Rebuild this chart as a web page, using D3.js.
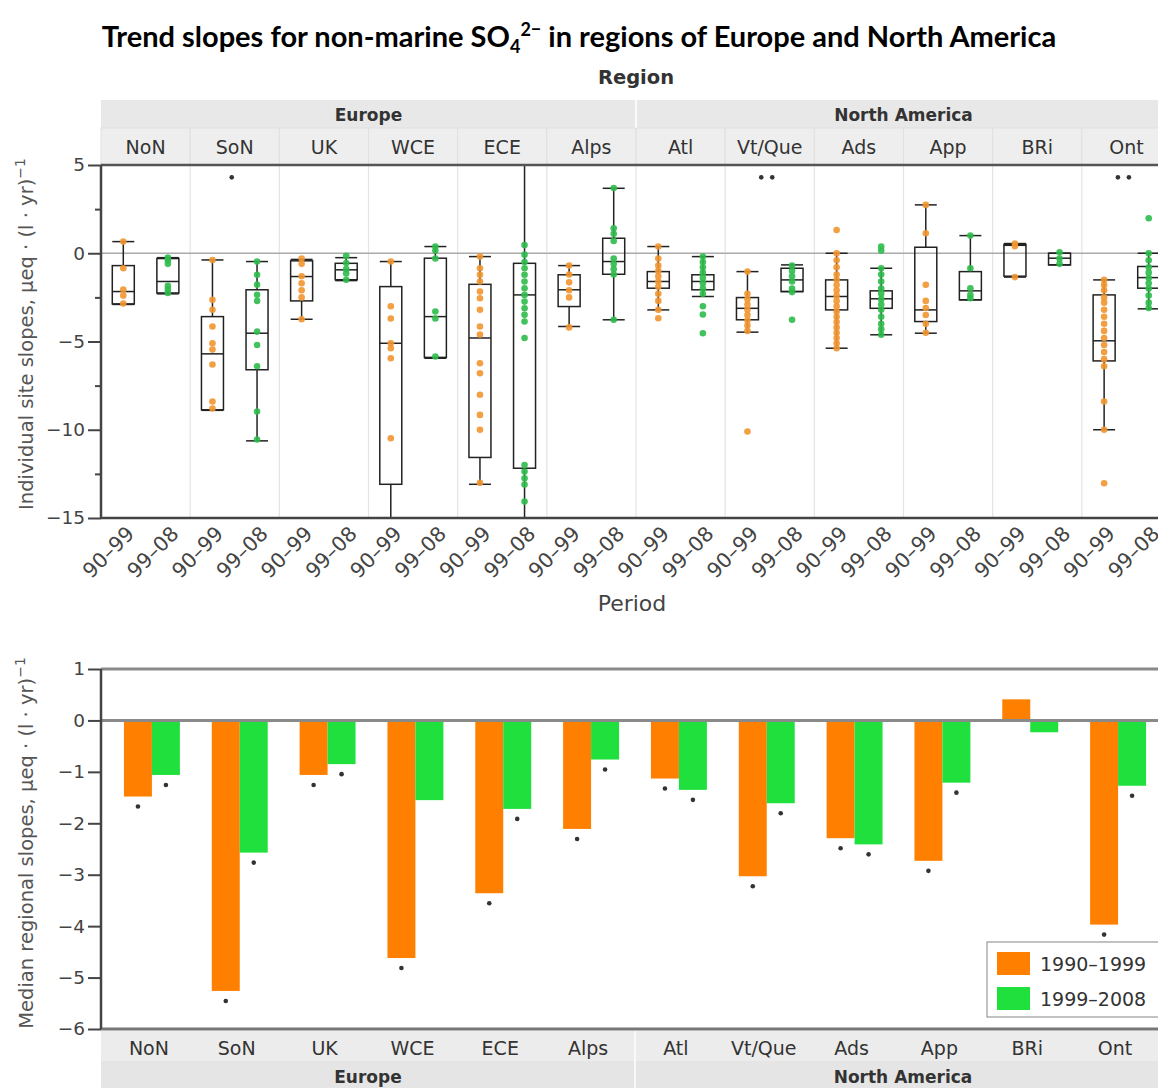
<!DOCTYPE html>
<html><head><meta charset="utf-8">
<script src="https://cdn.jsdelivr.net/npm/d3@7"></script>
<style>body{margin:0;background:#fff}svg{display:block}</style>
</head><body><svg id="c" width="1158" height="1088"></svg>
<script>
// ---------- DATA ----------
const regions = ["NoN","SoN","UK","WCE","ECE","Alps","Atl","Vt/Que","Ads","App","BRi","Ont"];
const regionGroup = ["Europe","Europe","Europe","Europe","Europe","Europe","North America","North America","North America","North America","North America","North America"];
const groups = ["Europe","North America"];
const periods = ["90–99","99–08"];
const seriesNames = ["1990–1999","1999–2008"];

// box stats per region: [whiskerLow, q1, median, q3, whiskerHigh]
const box9099 = [
  [-2.9,-2.87,-2.17,-0.7,0.66],
  [-8.9,-8.87,-5.7,-3.59,-0.38],
  [-3.74,-2.7,-1.32,-0.43,-0.35],
  [-17,-13.09,-5.1,-1.89,-0.47],
  [-13.09,-11.57,-4.8,-1.76,-0.19],
  [-4.15,-3.02,-2.07,-1.22,-0.7],
  [-3.21,-1.98,-1.6,-1.04,0.38],
  [-4.47,-3.77,-3.12,-2.51,-1.04],
  [-5.38,-3.21,-2.45,-1.51,0.0],
  [-4.53,-3.87,-3.21,0.34,2.74],
  [-1.35,-1.3,0.45,0.5,0.55],
  [-10.0,-6.1,-4.96,-2.36,-1.51]
];
const box9908 = [
  [-2.3,-2.25,-1.6,-0.3,-0.25],
  [-10.63,-6.6,-4.53,-2.07,-0.47],
  [-1.55,-1.5,-0.94,-0.57,-0.25],
  [-5.95,-5.9,-3.59,-0.28,0.38],
  [-17,-12.18,-2.36,-0.57,7],
  [-3.77,-1.19,-0.47,0.85,3.68],
  [-2.45,-2.07,-1.6,-1.22,-0.19],
  [-2.17,-2.17,-1.51,-0.85,-0.66],
  [-4.62,-3.12,-2.58,-2.13,-0.85],
  [-2.64,-2.64,-2.13,-1.04,1.0],
  [-0.66,-0.66,-0.28,0.0,0.0],
  [-3.15,-1.98,-1.38,-0.75,0.0]
];
// individual site slopes
const sites9099 = [
  [0.66,-0.85,-2.05,-2.4,-2.85],
  [-0.38,-2.64,-3.2,-4.15,-5.1,-5.46,-6.3,-8.4,-8.8],
  [-0.3,-0.6,-1.3,-1.7,-2.1,-2.5,-3.74],
  [-0.47,-3.0,-3.7,-5.1,-5.38,-5.95,-10.48],
  [-0.19,-0.85,-1.22,-1.6,-2.17,-2.55,-3.2,-4.15,-4.6,-6.23,-6.8,-8.02,-9.16,-10.0,-13.0],
  [-0.7,-1.2,-1.65,-2.1,-2.5,-4.2],
  [0.38,-0.3,-0.7,-1.0,-1.3,-1.6,-1.9,-2.3,-2.7,-3.2,-3.68],
  [-1.04,-2.3,-2.6,-2.9,-3.2,-3.5,-3.8,-4.1,-4.4,-10.1],
  [1.32,0.0,-0.4,-0.8,-1.2,-1.5,-1.8,-2.1,-2.4,-2.7,-3.0,-3.3,-3.6,-3.9,-4.2,-4.5,-4.8,-5.1,-5.38],
  [2.74,1.13,-1.79,-2.7,-3.1,-3.5,-4.0,-4.5],
  [0.55,0.4,-1.35],
  [-1.51,-1.8,-2.1,-2.5,-2.8,-3.2,-3.6,-4.0,-4.4,-4.8,-5.2,-5.6,-6.0,-6.4,-8.4,-10.0,-13.03]
];
const sites9908 = [
  [-0.25,-0.4,-0.6,-1.85,-2.05,-2.25],
  [-0.47,-1.22,-1.78,-2.35,-2.7,-4.44,-5.2,-6.4,-8.97,-10.55],
  [-0.15,-0.55,-0.9,-1.15,-1.5],
  [0.38,0.15,-0.3,-3.3,-3.7,-5.85],
  [0.47,-0.08,-0.5,-0.85,-1.22,-1.6,-1.98,-2.36,-2.74,-3.12,-3.49,-3.87,-4.8,-12.0,-12.37,-12.75,-13.1,-14.07],
  [3.7,1.42,1.1,0.7,-0.3,-0.6,-0.9,-1.2,-3.77],
  [-0.19,-0.5,-0.8,-1.1,-1.4,-1.7,-2.0,-2.3,-3.0,-3.47,-4.53],
  [-0.7,-1.0,-1.3,-1.6,-2.0,-2.2,-3.77],
  [0.38,0.15,-0.85,-1.2,-1.6,-2.0,-2.3,-2.6,-2.9,-3.2,-3.6,-4.0,-4.3,-4.62],
  [1.0,-0.85,-1.98,-2.36,-2.55],
  [0.05,-0.3,-0.6],
  [1.98,0.0,-0.4,-0.8,-1.1,-1.4,-1.7,-2.0,-2.4,-2.8,-3.1]
];
// number of off-scale markers shown at top of panel
const offScale = [0,1,0,0,0,0,0,2,0,0,0,2];

// median regional slopes
const median9099 = [-1.48,-5.26,-1.06,-4.62,-3.36,-2.11,-1.13,-3.03,-2.29,-2.73,0.41,-3.97];
const median9908 = [-1.06,-2.57,-0.85,-1.55,-1.72,-0.76,-1.35,-1.61,-2.41,-1.21,-0.23,-1.27];
const signif9099 = [1,1,1,1,1,1,1,1,1,1,0,1];
const signif9908 = [1,1,1,0,1,1,1,1,1,1,0,1];

const topTicks = [5,0,-5,-10,-15];
const topMinor = [2.5,-2.5,-7.5,-12.5];
const botTicks = [1,0,-1,-2,-3,-4,-5,-6];

// ---------- STYLE ----------
const ORANGE_PT = "#f2952f", GREEN_PT = "#2dbb4b";
const ORANGE = "#ff8000", GREEN = "#1fe03c";
const FONT = "DejaVu Sans";

const svg = d3.select("#c");

// Title
const title = svg.append("text").attr("x",579).attr("y",47).attr("text-anchor","middle")
  .attr("font-family","Lato").attr("font-weight","bold").attr("font-size",29).attr("fill","#000");
title.append("tspan").text("Trend slopes for non-marine SO");
title.append("tspan").attr("font-size",18).attr("dy",6).text("4");
title.append("tspan").attr("font-size",18).attr("dy",-17).text("2−");
title.append("tspan").attr("dy",11).text(" in regions of Europe and North America");

// ---------- TOP PANEL ----------
const L = 101, R = 1171;
const yT = d3.scaleLinear().domain([-15,5]).range([518,165]);
const xT = d3.scaleBand().domain(regions).range([L,R]);
const xP = d3.scalePoint().domain(periods).range([0,xT.bandwidth()]).padding(0.5);

svg.append("text").attr("x",636).attr("y",84).attr("text-anchor","middle")
  .attr("font-family",FONT).attr("font-weight","bold").attr("font-size",19.5).attr("fill","#333").text("Region");

// header
svg.append("rect").attr("x",L).attr("y",100).attr("width",R-L).attr("height",28).attr("fill","#e8e8e8");
svg.selectAll(".hcell").data(regions).join("rect")
  .attr("x",d=>xT(d)).attr("y",128).attr("width",xT.bandwidth()).attr("height",37)
  .attr("fill","#eeeeee").attr("stroke","#e0e0e0").attr("stroke-width",1);
const gStart = g => xT(regions[regionGroup.indexOf(g)]);
const gEnd = g => xT(regions[regionGroup.lastIndexOf(g)]) + xT.bandwidth();
svg.append("line").attr("x1",gEnd("Europe")).attr("x2",gEnd("Europe")).attr("y1",100).attr("y2",128)
  .attr("stroke","#fafafa").attr("stroke-width",2);
svg.selectAll(".gl").data(groups).join("text")
  .attr("x",g=>(gStart(g)+gEnd(g))/2).attr("y",121).attr("text-anchor","middle")
  .attr("font-family",FONT).attr("font-weight","bold").attr("font-size",17).attr("fill","#333").text(g=>g);
svg.selectAll(".rl").data(regions).join("text")
  .attr("x",d=>xT(d)+xT.bandwidth()/2).attr("y",154).attr("text-anchor","middle")
  .attr("font-family",FONT).attr("font-size",19).attr("fill","#333").text(d=>d);

// separators
svg.selectAll(".sep").data(regions.slice(1)).join("line")
  .attr("x1",d=>xT(d)).attr("x2",d=>xT(d)).attr("y1",165).attr("y2",518)
  .attr("stroke","#e4e4e4").attr("stroke-width",1.2);
svg.append("line").attr("x1",L).attr("x2",R).attr("y1",yT(0)).attr("y2",yT(0))
  .attr("stroke","#aaa").attr("stroke-width",1.5);

svg.append("defs").append("clipPath").attr("id","clipT").append("rect")
  .attr("x",L).attr("y",165).attr("width",R-L).attr("height",353);
const gT = svg.append("g").attr("clip-path","url(#clipT)");

function drawBoxes(stats, sites, period, color){
  regions.forEach((r,i)=>{
    const cx = xT(r)+xP(period);
    const [lo,q1,md,q3,hi] = stats[i];
    const g = gT.append("g");
    const bw = 22, cw = 22;
    g.append("line").attr("x1",cx).attr("x2",cx).attr("y1",yT(lo)).attr("y2",yT(q1)).attr("stroke","#222").attr("stroke-width",1.5);
    g.append("line").attr("x1",cx).attr("x2",cx).attr("y1",yT(q3)).attr("y2",yT(hi)).attr("stroke","#222").attr("stroke-width",1.5);
    [lo,hi].forEach(v=>g.append("line").attr("x1",cx-cw/2).attr("x2",cx+cw/2).attr("y1",yT(v)).attr("y2",yT(v)).attr("stroke","#222").attr("stroke-width",1.5));
    g.append("rect").attr("x",cx-bw/2).attr("y",yT(q3)).attr("width",bw).attr("height",yT(q1)-yT(q3))
      .attr("fill","none").attr("stroke","#222").attr("stroke-width",1.5);
    g.append("line").attr("x1",cx-bw/2).attr("x2",cx+bw/2).attr("y1",yT(md)).attr("y2",yT(md)).attr("stroke","#222").attr("stroke-width",1.5);
    g.selectAll("circle").data(sites[i]).join("circle")
      .attr("cx",cx).attr("cy",v=>yT(v)).attr("r",3.3).attr("fill",color).attr("fill-opacity",0.9);
  });
}
drawBoxes(box9099, sites9099, periods[0], ORANGE_PT);
drawBoxes(box9908, sites9908, periods[1], GREEN_PT);

// off-scale markers
regions.forEach((r,i)=>{
  const n = offScale[i]; if(!n) return;
  const c = xT(r)+xT.bandwidth()/2-3;
  for(let k=0;k<n;k++){
    svg.append("circle").attr("cx",c+(k-(n-1)/2)*11).attr("cy",yT(4.3)).attr("r",2.3).attr("fill","#333");
  }
});

// borders
svg.append("line").attr("x1",L).attr("x2",R).attr("y1",165).attr("y2",165).attr("stroke","#555").attr("stroke-width",2.5);
svg.append("line").attr("x1",L).attr("x2",R).attr("y1",518).attr("y2",518).attr("stroke","#444").attr("stroke-width",2.5);

// y axis
const fmt = d3.format("d");
const axT = svg.append("g").attr("transform",`translate(${L},0)`)
  .call(d3.axisLeft(yT).tickValues(topTicks).tickSize(13).tickPadding(3).tickFormat(fmt));
svg.append("g").attr("transform",`translate(${L},0)`)
  .call(d3.axisLeft(yT).tickValues(topMinor).tickSize(6).tickFormat(""))
  .call(g=>g.select(".domain").remove());
function styleAxis(g){
  g.selectAll("path.domain").attr("stroke","#444").attr("stroke-width",2.5);
  g.selectAll(".tick line").attr("stroke","#444").attr("stroke-width",2);
  g.selectAll(".tick text").attr("font-family",FONT).attr("font-size",18.5).attr("fill","#444");
}
styleAxis(axT);
svg.selectAll("g .tick line").attr("stroke","#444").attr("stroke-width",2);
axT.select(".domain").attr("d",`M-0,518V165`);

// period tick labels
regions.forEach(r=>{
  periods.forEach(p=>{
    const x = xT(r)+xP(p);
    svg.append("text").attr("transform",`translate(${x+7},${530}) rotate(-45)`)
      .attr("text-anchor","end").attr("dy","0.35em")
      .attr("font-family",FONT).attr("font-size",20.5).attr("fill","#444").text(p);
  });
});
svg.append("text").attr("x",632).attr("y",611).attr("text-anchor","middle")
  .attr("font-family",FONT).attr("font-size",22).attr("fill","#444").text("Period");

// y title top
const t1 = svg.append("text").attr("transform","translate(33,334) rotate(-90)").attr("text-anchor","middle")
  .attr("font-family",FONT).attr("font-size",19.5).attr("fill","#555");
t1.append("tspan").text("Individual site slopes,  μeq · (l · yr)");
t1.append("tspan").attr("dy",-8).attr("font-size",14).text("−1");

// ---------- BOTTOM PANEL ----------
const yB = d3.scaleLinear().domain([-6,1]).range([1029,669]);
const xB = d3.scaleBand().domain(regions).range([108,1162]);
const xS = d3.scaleBand().domain(seriesNames).range([0,xB.bandwidth()]).paddingOuter(0.57);

// bottom band
svg.append("rect").attr("x",L).attr("y",1031).attr("width",R-L).attr("height",30).attr("fill","#ececec");
svg.append("rect").attr("x",L).attr("y",1061).attr("width",R-L).attr("height",27).attr("fill","#e5e5e5");
const bSplit = xB(regions[regionGroup.indexOf("North America")]);
svg.append("line").attr("x1",bSplit).attr("x2",bSplit).attr("y1",1031).attr("y2",1088).attr("stroke","#f8f8f8").attr("stroke-width",2);
svg.selectAll(".brl").data(regions).join("text")
  .attr("x",d=>xB(d)+xB.bandwidth()/2-3).attr("y",1055).attr("text-anchor","middle")
  .attr("font-family",FONT).attr("font-size",19).attr("fill","#333").text(d=>d);
const bgS = {"Europe":L, "North America":bSplit}, bgE = {"Europe":bSplit, "North America":R};
svg.selectAll(".bgl").data(groups).join("text")
  .attr("x",g=>(bgS[g]+bgE[g])/2).attr("y",1083).attr("text-anchor","middle")
  .attr("font-family",FONT).attr("font-weight","bold").attr("font-size",17).attr("fill","#333").text(g=>g);

// bars
const barSeries = [
  {name:seriesNames[0], vals:median9099, sig:signif9099, color:ORANGE},
  {name:seriesNames[1], vals:median9908, sig:signif9908, color:GREEN}
];
barSeries.forEach(s=>{
  svg.selectAll(null).data(regions).join("rect")
    .attr("x",(d)=>xB(d)+xS(s.name)).attr("width",xS.bandwidth())
    .attr("y",(d,i)=>yB(Math.max(0,s.vals[i]))).attr("height",(d,i)=>Math.abs(yB(s.vals[i])-yB(0)))
    .attr("fill",s.color);
  regions.forEach((d,i)=>{
    if(!s.sig[i]) return;
    svg.append("circle").attr("cx",xB(d)+xS(s.name)+xS.bandwidth()/2).attr("cy",yB(s.vals[i])+10)
      .attr("r",2.3).attr("fill","#333");
  });
});

svg.append("line").attr("x1",L).attr("x2",R).attr("y1",yB(1)).attr("y2",yB(1)).attr("stroke","#8a8a8a").attr("stroke-width",3);
svg.append("line").attr("x1",L).attr("x2",R).attr("y1",yB(0)).attr("y2",yB(0)).attr("stroke","#8a8a8a").attr("stroke-width",3);
svg.append("line").attr("x1",L).attr("x2",R).attr("y1",yB(-6)).attr("y2",yB(-6)).attr("stroke","#777").attr("stroke-width",3);

const axB = svg.append("g").attr("transform",`translate(${L},0)`)
  .call(d3.axisLeft(yB).tickValues(botTicks).tickSize(13).tickPadding(3).tickFormat(fmt));
styleAxis(axB);
axB.select(".domain").attr("d",`M-0,${yB(-6)}V${yB(1)}`);

const t2 = svg.append("text").attr("transform","translate(33,843) rotate(-90)").attr("text-anchor","middle")
  .attr("font-family",FONT).attr("font-size",19.5).attr("fill","#555");
t2.append("tspan").text("Median regional slopes,  μeq · (l · yr)");
t2.append("tspan").attr("dy",-8).attr("font-size",14).text("−1");

// legend
const lg = svg.append("g");
lg.append("rect").attr("x",987).attr("y",942).attr("width",185).attr("height",75)
  .attr("fill","#fff").attr("stroke","#999").attr("stroke-width",1.2);
barSeries.forEach((s,k)=>{
  lg.append("rect").attr("x",997).attr("y",952+k*35).attr("width",33).attr("height",23).attr("fill",s.color);
  lg.append("text").attr("x",1040).attr("y",964+k*35).attr("dy","0.35em")
    .attr("font-family",FONT).attr("font-size",19).attr("fill","#333").text(s.name);
});
</script></body></html>
